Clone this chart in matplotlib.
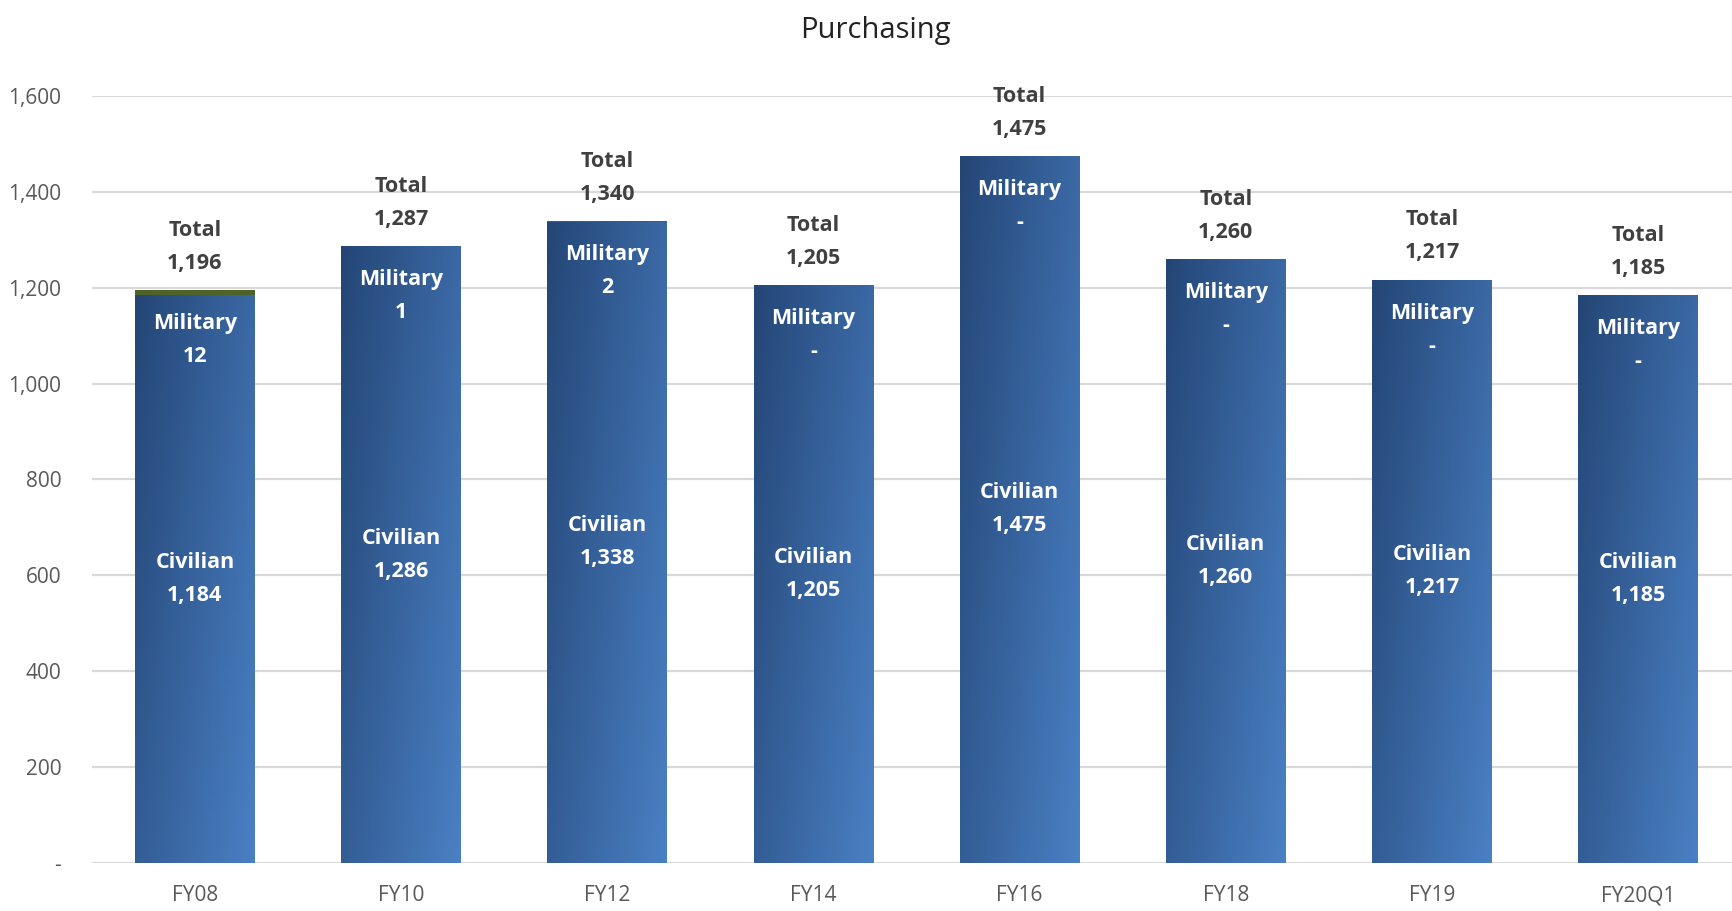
import matplotlib.pyplot as plt
import numpy as np
from matplotlib.colors import LinearSegmentedColormap
from matplotlib.ticker import FuncFormatter

# data
years = ["FY08", "FY10", "FY12", "FY14", "FY16", "FY18", "FY19", "FY20Q1"]
civilian = [1184, 1286, 1338, 1205, 1475, 1260, 1217, 1185]
military = [12, 1, 2, 0, 0, 0, 0, 0]
totals = [1196, 1287, 1340, 1205, 1475, 1260, 1217, 1185]

plt.rcParams['font.family'] = ['Open Sans', 'DejaVu Sans']

fig = plt.figure(figsize=(17.33, 9.11), dpi=100)
ax = fig.add_axes([0.053, 0.0527, 0.947, 0.842])

x = np.arange(len(years))
width = 0.58

civ_bars = ax.bar(x, civilian, width, color="#3a68a6", zorder=2)
mil_bars = ax.bar(x, military, width, bottom=civilian, color="#4f6228", zorder=3)

# gradient fill for civilian bars (dark top-left -> light bottom-right)
cmap = LinearSegmentedColormap.from_list("blues", ["#244676", "#4a80c4"])
gx, gy = np.meshgrid(np.linspace(0, 1, 60), np.linspace(0, 1, 120))
grad = 0.6 * gx + 0.4 * gy  # gy=0 at top with origin='upper'
for b in civ_bars:
    x0, y0 = b.get_x(), b.get_y()
    im = ax.imshow(grad, extent=[x0, x0 + b.get_width(), y0, y0 + b.get_height()],
                   cmap=cmap, vmin=0, vmax=1, aspect='auto', origin='upper', zorder=2.5)
    im.set_clip_path(b)

# labels
for i in range(len(years)):
    top = totals[i]
    ax.text(x[i], civilian[i] / 2, f"Civilian\n{civilian[i]:,}", ha='center', va='center',
            color='white', fontsize=15.5, fontweight='bold', linespacing=1.75, zorder=5)
    mil_txt = f"{military[i]:,}" if military[i] else "-"
    ax.annotate(f"Military\n{mil_txt}", (x[i], top), xytext=(0, -36), textcoords='offset points',
                ha='center', va='center', color='white', fontsize=15.5, fontweight='bold',
                linespacing=1.75, zorder=5)
    ax.annotate(f"Total\n{top:,}", (x[i], top), xytext=(0, 31), textcoords='offset points',
                ha='center', va='center', color='#404040', fontsize=15.5, fontweight='bold',
                linespacing=1.75, annotation_clip=False, zorder=5)

ax.set_ylim(0, 1600)
ax.set_xlim(-0.5, 7.46)
ax.set_yticks(np.arange(0, 1601, 200))
ax.yaxis.set_major_formatter(FuncFormatter(lambda v, p: "-" if v == 0 else f"{v:,.0f}"))
ax.set_xticks(x)
ax.set_xticklabels(years)
ax.tick_params(axis='both', length=0, labelsize=15, labelcolor='#595959')
ax.tick_params(axis='x', pad=16)
ax.tick_params(axis='y', pad=22)
ax.grid(axis='y', color='#d9d9d9', linewidth=1.6, zorder=0)
ax.set_axisbelow(True)
for s in ax.spines.values():
    s.set_visible(False)

fig.text(0.505, 0.966, "Purchasing", ha='center', va='center', fontsize=21, color='#222222')

fig.savefig("out.png", dpi=100)
